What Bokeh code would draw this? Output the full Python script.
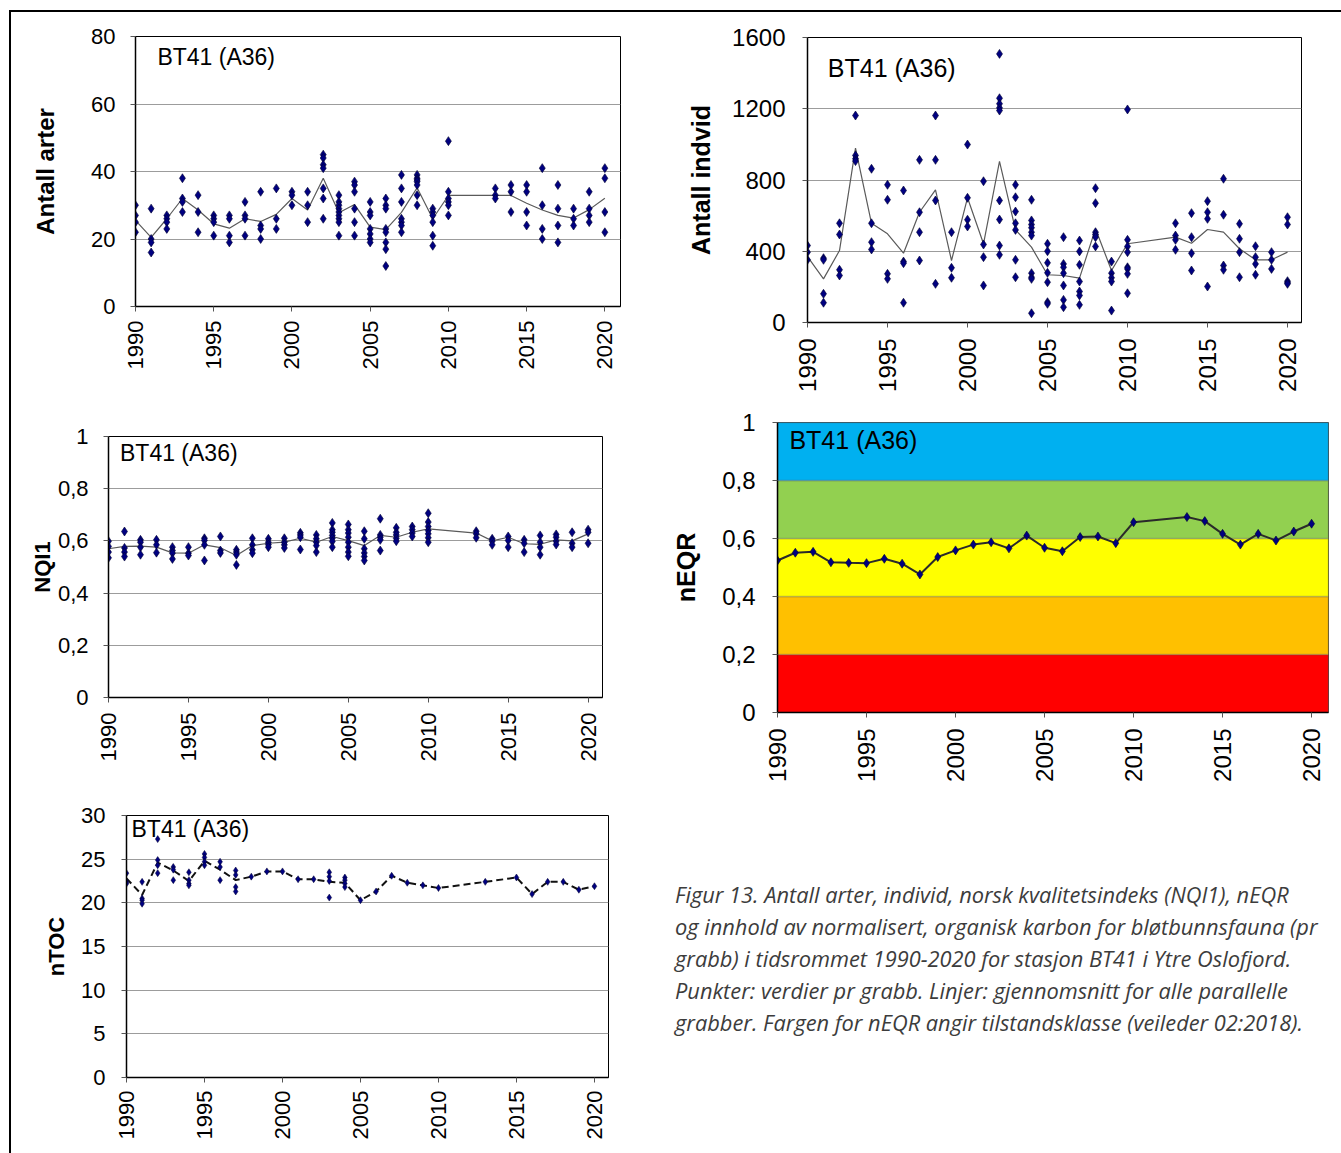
import math
from bokeh.plotting import figure
from bokeh.models import Range1d, FixedTicker, Label, BoxAnnotation, Div, Spacer, CustomJSTickFormatter
from bokeh.layouts import row, column
from bokeh.embed import file_html
from bokeh.resources import INLINE

FONT = "Liberation Sans"

# ---------------- data ----------------
x_ticks = [1990, 1995, 2000, 2005, 2010, 2015, 2020]

years_main = [1990, 1991, 1992, 1993, 1994, 1995, 1996, 1997, 1998, 1999, 2000,
              2001, 2002, 2003, 2004, 2005, 2006, 2007, 2008, 2009, 2010,
              2013, 2014, 2015, 2016, 2017, 2018, 2019, 2020]

arter_grabs = [
    [30, 27, 25, 22], [29, 20, 19, 16], [27, 26, 25, 23], [38, 32, 31, 28],
    [33, 28, 22], [27, 26, 25, 21], [27, 26, 21, 19], [31, 27, 26, 21],
    [34, 24, 23, 20], [35, 26, 23], [34, 33, 30], [34, 30, 25],
    [45, 44, 42, 41, 35, 32, 26], [33, 31, 30, 29, 28, 27, 26, 25, 21],
    [37, 36, 34, 29, 25, 21], [31, 28, 27, 23, 21.5, 20, 19],
    [32, 30, 29, 23, 22, 19, 17, 12], [39, 35, 31, 26, 25, 24, 22],
    [39, 38, 37.5, 37, 36, 33, 30], [29, 28, 27, 25, 21, 18],
    [49, 34, 32, 31, 30, 27], [35, 33, 32], [36, 34, 28], [36, 34, 28, 24],
    [41, 30, 23, 20], [36, 29, 24, 19], [29, 26, 24], [34, 29, 27, 25],
    [41, 38, 28, 22]]
arter_mean = [25.5, 20.5, 26, 32, 28.6, 24.5, 23.2, 26, 25.2, 27.3, 32, 28.6, 38,
              27.8, 30.2, 23.5, 22.8, 27.9, 35.2, 26, 32.9, 32.9, 32.9, 30.6,
              28.6, 27, 26.2, 28.7, 32.1]

indvid_grabs = [
    [432, 395, 352], [361, 352, 161, 111], [557, 494, 296, 264], [1162, 938, 919, 906],
    [863, 557, 451, 410], [773, 689, 273, 245], [741, 342, 333, 111], [913, 619, 507, 348],
    [1162, 913, 685, 217], [507, 307, 251], [999, 700, 577, 539], [793, 438, 367, 208],
    [1508, 1259, 1228, 1205, 1190, 685, 578, 432, 380],
    [773, 703, 623, 557, 520, 352, 254],
    [689, 573, 550, 532, 507, 488, 277, 254, 245, 52],
    [442, 400, 335, 279, 226, 114, 105], [479, 329, 310, 277, 208, 127, 86],
    [460, 399, 324, 230, 174, 152, 99], [754, 670, 507, 494, 479, 427],
    [342, 277, 251, 230, 67], [1196, 464, 427, 395, 310, 301, 273, 164],
    [557, 488, 464, 408], [614, 479, 389, 292], [681, 619, 582, 202],
    [807, 605, 320, 296], [554, 470, 395, 254], [428, 367, 329, 268],
    [395, 352, 301], [591, 550, 232, 223, 217]]
indvid_mean = [370, 245, 404, 979, 557, 498, 389, 619, 745, 348, 700, 442, 904, 520,
               423, 268, 264, 249, 526, 292, 442, 479, 445, 522, 507, 414, 352, 352, 395]

nqi_grabs = [
    [0.599, 0.579, 0.557, 0.535], [0.636, 0.573, 0.557, 0.540], [0.604, 0.595, 0.576, 0.547],
    [0.604, 0.585, 0.555], [0.576, 0.563, 0.553, 0.531], [0.576, 0.553, 0.544],
    [0.610, 0.602, 0.585, 0.525], [0.617, 0.563, 0.554], [0.566, 0.557, 0.547, 0.508],
    [0.610, 0.585, 0.566, 0.553], [0.608, 0.595, 0.586, 0.576], [0.610, 0.595, 0.585, 0.573],
    [0.631, 0.623, 0.614, 0.567], [0.623, 0.608, 0.595, 0.582, 0.557],
    [0.669, 0.643, 0.633, 0.621, 0.610, 0.598, 0.576],
    [0.663, 0.643, 0.630, 0.614, 0.595, 0.576, 0.557, 0.541],
    [0.637, 0.608, 0.570, 0.554, 0.540, 0.525], [0.685, 0.623, 0.614, 0.604, 0.563],
    [0.650, 0.633, 0.623, 0.610, 0.599], [0.655, 0.643, 0.630, 0.617],
    [0.706, 0.672, 0.655, 0.640, 0.627, 0.612, 0.595], [0.637, 0.627, 0.612],
    [0.608, 0.599, 0.585], [0.617, 0.602, 0.576], [0.604, 0.591, 0.557],
    [0.621, 0.595, 0.576, 0.547], [0.625, 0.614, 0.599, 0.586], [0.633, 0.591, 0.576],
    [0.643, 0.633, 0.591]]
nqi_mean = [0.570, 0.579, 0.580, 0.576, 0.554, 0.553, 0.585, 0.574, 0.544, 0.582, 0.591,
            0.595, 0.610, 0.595, 0.617, 0.601, 0.582, 0.621, 0.614, 0.633, 0.646, 0.630,
            0.600, 0.614, 0.589, 0.587, 0.604, 0.600, 0.627]

neqr_values = [0.524, 0.551, 0.554, 0.518, 0.516, 0.515, 0.530, 0.513, 0.476, 0.536,
               0.559, 0.579, 0.587, 0.566, 0.610, 0.568, 0.556, 0.605, 0.607, 0.584,
               0.656, 0.674, 0.660, 0.616, 0.579, 0.616, 0.593, 0.624, 0.651]
class_bounds = [0.0, 0.2, 0.4, 0.6, 0.8, 1.0]
class_colors = ["#FF0000", "#FFC000", "#FFFF00", "#92D050", "#00B0F0"]

years_toc = [1990, 1991, 1992, 1993, 1994, 1995, 1996, 1997, 1998, 1999, 2000,
             2001, 2002, 2003, 2004, 2005, 2006, 2007, 2008, 2009, 2010,
             2013, 2015, 2016, 2017, 2018, 2019, 2020]
toc_grabs = [
    [23.4, 22.4, 22.2], [22.4, 20.5, 20.3, 19.9], [27.3, 24.9, 24.3, 23.4], [24.1, 23.8, 22.6],
    [23.5, 22.6, 22.2, 22.0], [25.6, 25.2, 24.7, 24.3], [24.7, 24.1, 22.6],
    [23.7, 23.2, 21.8, 21.3], [23.0], [23.6], [23.6], [22.7], [22.7],
    [23.5, 23.0, 22.5, 20.6], [22.9, 22.6, 22.2, 21.8], [20.3], [21.3], [23.1], [22.3],
    [22.0], [21.7], [22.4], [22.9], [21.0], [22.4], [22.4], [21.5], [21.9]]
toc_mean = [22.8, 20.9, 24.6, 23.7, 22.5, 24.8, 23.8, 22.6, 23.0, 23.6, 23.6, 22.7, 22.7,
            22.4, 22.3, 20.3, 21.3, 23.1, 22.3, 22.0, 21.7, 22.4, 22.9, 21.0, 22.4, 22.4,
            21.5, 21.9]

station = "BT41 (A36)"
caption = ("Figur 13. Antall arter, individ, norsk kvalitetsindeks (NQI1), nEQR<br>"
           "og innhold av normalisert, organisk karbon for bløtbunnsfauna (pr<br>"
           "grabb) i tidsrommet 1990-2020 for stasjon BT41 i Ytre Oslofjord.<br>"
           "Punkter: verdier pr grabb. Linjer: gjennomsnitt for alle parallelle<br>"
           "grabber. Fargen for nEQR angir tilstandsklasse (veileder 02:2018).")


def flatten(years, grabs):
    xs, ys = [], []
    for yr, g in zip(years, grabs):
        xs += [yr] * len(g)
        ys += list(g)
    return xs, ys


comma_fmt = CustomJSTickFormatter(code="""
    if (Math.abs(tick) < 1e-9) return '0';
    if (Math.abs(tick - 1) < 1e-9) return '1';
    return tick.toFixed(1).replace('.', ',');
""")


def base_fig(w, h, ml, mr, mt, mb, xmax, ymax, yticks, tick_fs, lab_fs, ylab,
             ylab_standoff, ylbl_standoff, xlbl_standoff):
    p = figure(width=w, height=h, x_range=Range1d(1990, xmax), y_range=Range1d(0, ymax),
               output_backend="svg", toolbar_location=None,
               min_border_left=ml, min_border_right=mr, min_border_top=mt,
               min_border_bottom=mb, margin=0)
    p.frame_align = False
    p.outline_line_color = "black"
    p.outline_line_width = 1
    p.xgrid.visible = False
    p.ygrid.grid_line_color = "#9c9c9c"
    p.ygrid.grid_line_width = 1
    for ax in (p.xaxis[0], p.yaxis[0]):
        ax.major_tick_out = 5
        ax.major_tick_in = 0
        ax.minor_tick_out = 0
        ax.minor_tick_in = 0
        ax.axis_line_color = "black"
        ax.axis_line_width = 1.5
        ax.major_tick_line_color = "#555555"
        ax.major_label_text_font = FONT
        ax.major_label_text_font_size = f"{tick_fs}px"
        ax.major_label_text_color = "black"
    p.xaxis.ticker = FixedTicker(ticks=x_ticks)
    p.xaxis.major_label_orientation = math.pi / 2
    p.xaxis.major_label_standoff = xlbl_standoff
    p.yaxis.ticker = FixedTicker(ticks=yticks)
    p.yaxis.major_label_standoff = ylbl_standoff
    p.yaxis.axis_label = ylab
    p.yaxis.axis_label_text_font = FONT
    p.yaxis.axis_label_text_font_style = "bold"
    p.yaxis.axis_label_text_font_size = f"{lab_fs}px"
    p.yaxis.axis_label_standoff = ylab_standoff
    p.yaxis.axis_label_text_color = "black"
    return p


def station_label(p, x, y, fs):
    p.add_layout(Label(x=x, y=y, text=station, text_font=FONT, text_font_size=f"{fs}px",
                       text_baseline="middle", text_color="black"))


MARK_FILL = "#000080"
MARK_LINE = "#000030"
MEAN_COL = "#5a5a5a"

# ---- Panel 1: Antall arter ----
p1 = base_fig(649, 398, 124, 40, 24, 104, 2021.0, 80, [0, 20, 40, 60, 80],
              22, 24, "Antall arter", 29, 15, 9)
xs, ys = flatten(years_main, arter_grabs)
p1.line(years_main, arter_mean, line_color=MEAN_COL, line_width=1.2)
p1.scatter(xs, ys, marker="diamond", size=9, fill_color=MARK_FILL, line_color=MARK_LINE,
           line_width=0.6)
station_label(p1, 1991.4, 73.8, 23)

# ---- Panel 2: Antall indvid ----
p2 = base_fig(681, 398, 147, 40, 25, 88, 2020.875, 1600, [0, 400, 800, 1200, 1600],
              24, 25, "Antall indvid", 14, 17, 11)
xs, ys = flatten(years_main, indvid_grabs)
p2.line(years_main, indvid_mean, line_color=MEAN_COL, line_width=1.2)
p2.scatter(xs, ys, marker="diamond", size=9, fill_color=MARK_FILL, line_color=MARK_LINE,
           line_width=0.6)
station_label(p2, 1991.27, 1431, 25)

# ---- Panel 3: NQI1 ----
p3 = base_fig(629, 380, 97, 38, 26, 93, 2020.9, 1, [0, 0.2, 0.4, 0.6, 0.8, 1],
              22, 22, "NQI1", 0, 15, 10)
p3.yaxis.formatter = comma_fmt
xs, ys = flatten(years_main, nqi_grabs)
p3.line(years_main, nqi_mean, line_color=MEAN_COL, line_width=1.2)
p3.scatter(xs, ys, marker="diamond", size=9, fill_color=MARK_FILL, line_color=MARK_LINE,
           line_width=0.6)
station_label(p3, 1990.72, 0.935, 23)

# ---- Panel 4: nEQR ----
p4 = base_fig(701, 380, 137, 13, 12, 78, 2020.95, 1, [0, 0.2, 0.4, 0.6, 0.8, 1],
              24, 25, "nEQR", 19, 17, 11)
p4.yaxis.formatter = comma_fmt
p4.ygrid.visible = False
p4.outline_line_color = "#444444"
for lo, hi, col in zip(class_bounds[:-1], class_bounds[1:], class_colors):
    p4.add_layout(BoxAnnotation(bottom=lo, top=hi, fill_color=col, fill_alpha=1.0,
                                line_color="#555555", line_width=1.5, level="underlay"))
p4.line(years_main, neqr_values, line_color="#2a2a2a", line_width=2)
p4.scatter(years_main, neqr_values, marker="diamond", size=9, fill_color=MARK_FILL,
           line_color=MARK_LINE, line_width=0.6)
station_label(p4, 1990.67, 0.941, 25)

# ---- Panel 5: nTOC ----
p5 = base_fig(629, 363, 115, 32, 25, 76, 2020.9, 30, [0, 5, 10, 15, 20, 25, 30],
              22, 22, "nTOC", 9, 16, 8)
xs, ys = flatten(years_toc, toc_grabs)
p5.line(years_toc, toc_mean, line_color="#111111", line_width=2, line_dash="7 4")
p5.scatter(xs, ys, marker="diamond", size=7, fill_color=MARK_FILL, line_color=MARK_LINE,
           line_width=0.5)
station_label(p5, 1990.32, 28.5, 23)

cap = Div(text=(
    '<div style="font-family: \'Open Sans\', sans-serif; font-style: italic; '
    'font-size: 21.8px; line-height: 32px; color: #3c3c3c; padding-left: 35px; '
    f'padding-top: 89px; white-space: nowrap;">{caption}</div>'),
    width=701, height=363, margin=0)

content = column(
    row(p1, p2, margin=0, spacing=0),
    row(p3, p4, margin=0, spacing=0),
    row(p5, cap, margin=0, spacing=0),
    margin=0, spacing=0,
)

top_line = Div(text="", width=1332, height=2, margin=0,
               styles={"background-color": "black"})
left_line = Div(text="", width=2, height=1141, margin=0,
                styles={"background-color": "black"})

layout = column(
    Spacer(width=1341, height=10, margin=0),
    row(Spacer(width=9, height=2, margin=0), top_line, margin=0, spacing=0),
    row(Spacer(width=9, height=1141, margin=0), left_line, content, margin=0, spacing=0),
    margin=0, spacing=0,
)

open("out.html", "w").write(file_html(layout, INLINE))
